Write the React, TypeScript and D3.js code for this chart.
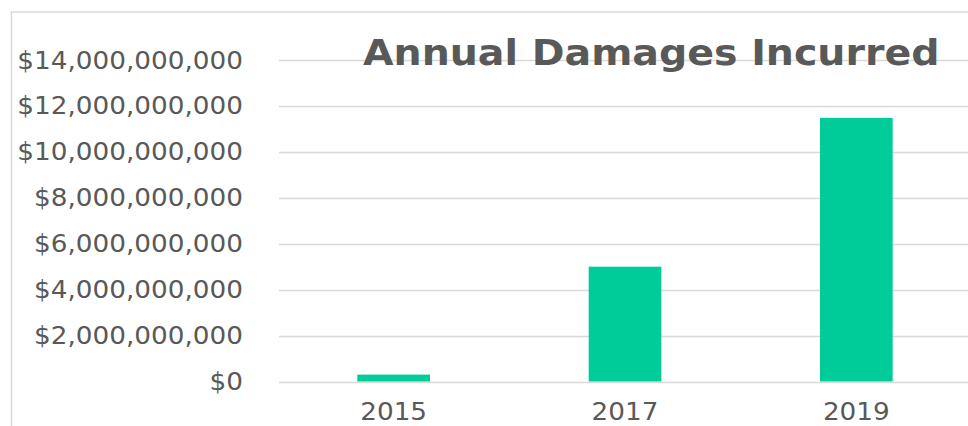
import React, { useEffect, useRef } from "react";
import * as d3 from "d3";

const years = ["2015", "2017", "2019"];
const damages = [300000000, 5000000000, 11480000000];
const yTicks = [0, 2e9, 4e9, 6e9, 8e9, 10e9, 12e9, 14e9];
const title = "Annual Damages Incurred";

const W = 968;
const H = 426;
const margin = { top: 60, right: -4, bottom: 44.5, left: 278 };
// DejaVu is a bit narrower than Verdana, stretch glyphs a little
const stretch = 1.095;

export default function App() {
  const ref = useRef<SVGSVGElement>(null);

  useEffect(() => {
    const svg = d3.select(ref.current);
    svg.html("");

    const font = "Verdana, 'DejaVu Sans', sans-serif";
    const grey = "#595959";
    const lineGrey = "#d9d9d9";

    // outer chart frame (cropped on the right and bottom)
    svg
      .append("path")
      .attr("d", `M11.5,${H + 2}V12H${W + 2}`)
      .attr("fill", "none")
      .attr("stroke", lineGrey)
      .attr("stroke-width", 1.5);

    const x = d3
      .scaleBand()
      .domain(years)
      .range([margin.left, W - margin.right]);
    const y = d3
      .scaleLinear()
      .domain([0, 14e9])
      .range([H - margin.bottom, margin.top]);

    const fmt = (v: number) => "$" + d3.format(",")(v);

    // grid lines
    svg
      .append("g")
      .selectAll("line")
      .data(yTicks)
      .join("line")
      .attr("x1", margin.left + 1)
      .attr("x2", W)
      .attr("y1", d => Math.round(y(d)) + 0.5)
      .attr("y2", d => Math.round(y(d)) + 0.5)
      .attr("stroke", lineGrey)
      .attr("stroke-width", 1.5);

    // y labels
    svg
      .append("g")
      .selectAll("text")
      .data(yTicks)
      .join("text")
      .attr("transform", d => `translate(243,${y(d) + 8.5}) scale(${stretch},1)`)
      .attr("text-anchor", "end")
      .attr("font-family", font)
      .attr("font-size", 24)
      .attr("fill", grey)
      .text(d => fmt(d));

    // bars
    const barW = x.bandwidth() * 0.314;
    svg
      .append("g")
      .selectAll("rect")
      .data(damages)
      .join("rect")
      .attr("x", (d, i) => x(years[i])! + (x.bandwidth() - barW) / 2)
      .attr("width", barW)
      .attr("y", d => y(d))
      .attr("height", d => y(0) - y(d))
      .attr("fill", "#00cc99");

    // x labels
    svg
      .append("g")
      .selectAll("text")
      .data(years)
      .join("text")
      .attr(
        "transform",
        d => `translate(${x(d)! + x.bandwidth() / 2},420) scale(${stretch},1)`
      )
      .attr("text-anchor", "middle")
      .attr("font-family", font)
      .attr("font-size", 24)
      .attr("fill", grey)
      .text(d => d);

    // title
    svg
      .append("text")
      .attr("transform", `translate(363,64.5) scale(1.097,1)`)
      .attr("font-family", font)
      .attr("font-size", 36)
      .attr("font-weight", "bold")
      .attr("fill", grey)
      .text(title);
  }, []);

  return (
    <svg
      ref={ref}
      width={W}
      height={H}
      style={{ position: "absolute", left: 0, top: 0, background: "#fff" }}
    />
  );
}
